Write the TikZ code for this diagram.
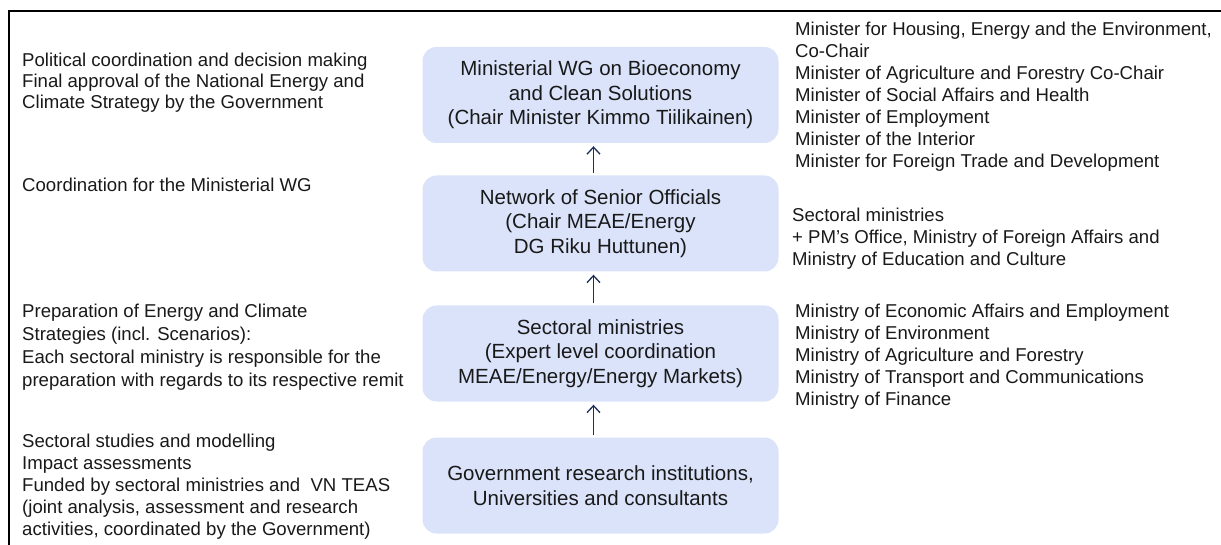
\documentclass[tikz,border=0pt]{standalone}
\usepackage{fontspec}
\setmainfont{Liberation Sans}
\usepackage{xcolor}
\usetikzlibrary{positioning,arrows.meta}
\definecolor{boxblue}{RGB}{218,227,249}
\definecolor{arrownavy}{RGB}{31,45,90}
\definecolor{textgray}{RGB}{25,25,25}

\begin{document}
\begin{tikzpicture}[x=1pt, y=-1pt, >={Straight Barb[length=7pt,width=13pt]},
    level box/.style={fill=boxblue, rounded corners=14pt, minimum width=356pt, minimum height=96pt,
        align=center, text=textgray, font=\fontsize{20.5}{24.5}\selectfont},
    note/.style={anchor=west, align=left, inner sep=0pt, text=textgray, font=\fontsize{18.6}{22}\selectfont}]
    \useasboundingbox (0,0) rectangle (1221,545);
    \draw[line width=1.5pt] (9,545) -- (9,11) -- (1221,11);

    \node[level box] (wg) at (600.5,95) {Ministerial WG on Bioeconomy\\and Clean Solutions\\(Chair Minister Kimmo Tiilikainen)};
    \node[level box] (senior) at (600.5,223.5) {Network of Senior Officials\\(Chair MEAE/Energy\\DG Riku Huttunen)};
    \node[level box] (sector) at (600.5,353.5) {Sectoral ministries\\(Expert level coordination\\MEAE/Energy/Energy Markets)};
    \node[level box] (research) at (600.5,485.5) {Government research institutions,\\Universities and consultants};

    \node[note, font=\fontsize{18.6}{21}\selectfont] (wgrole) at (22,83) {Political coordination and decision making\\Final approval of the National Energy and\\Climate Strategy by the Government};
    \node[note] (seniorrole) at (22,185) {Coordination for the Ministerial WG};
    \node[note, font=\fontsize{18.6}{23}\selectfont] (sectorrole) at (22,347.5) {Preparation of Energy and Climate\\Strategies (incl. Scenarios):\\Each sectoral ministry is responsible for the\\preparation with regards to its respective remit};
    \node[note] (researchrole) at (22,487) {Sectoral studies and modelling\\Impact assessments\\Funded by sectoral ministries and \ VN TEAS\\(joint analysis, assessment and research\\activities, coordinated by the Government)};

    \node[note] (wgmembers) at (795,96.5) {Minister for Housing, Energy and the Environment,\\Co-Chair\\Minister of Agriculture and Forestry Co-Chair\\Minister of Social Affairs and Health\\Minister of Employment\\Minister of the Interior\\Minister for Foreign Trade and Development};
    \node[note] (seniormembers) at (792,239) {Sectoral ministries\\+ PM’s Office, Ministry of Foreign Affairs and\\Ministry of Education and Culture};
    \node[note] (sectormembers) at (795,357) {Ministry of Economic Affairs and Employment\\Ministry of Environment\\Ministry of Agriculture and Forestry\\Ministry of Transport and Communications\\Ministry of Finance};

    \path[->, arrownavy, line width=1.3pt, shorten <=2pt, shorten >=3pt]
        ([xshift=-7pt]senior.north) edge ([xshift=-7pt]wg.south)
        ([xshift=-7pt]sector.north) edge ([xshift=-7pt]senior.south)
        ([xshift=-7pt]research.north) edge ([xshift=-7pt]sector.south);
\end{tikzpicture}
\end{document}
